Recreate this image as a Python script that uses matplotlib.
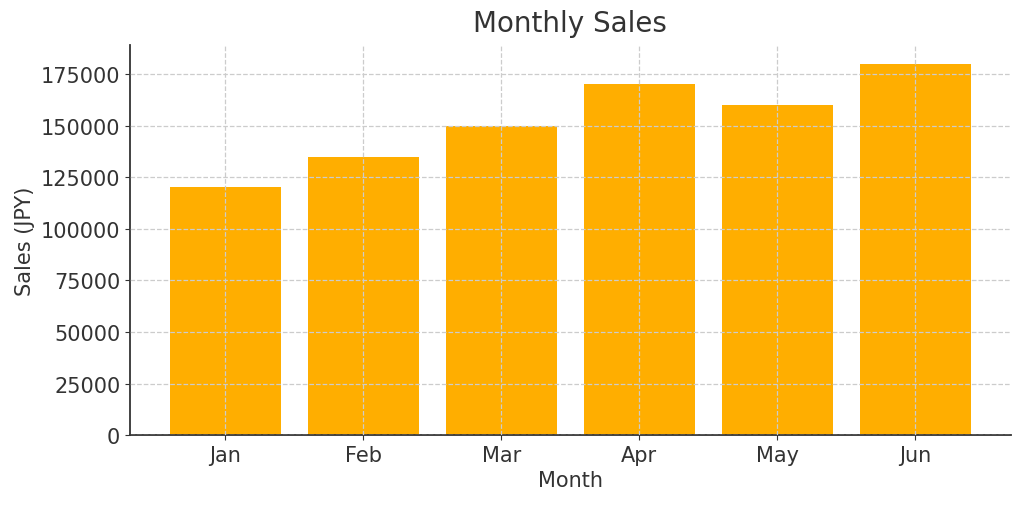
import matplotlib
matplotlib.use('Agg')
import matplotlib.pyplot as plt

months = ['Jan', 'Feb', 'Mar', 'Apr', 'May', 'Jun']
sales = [120000, 135000, 150000, 170000, 160000, 180000]

text_color = '#333333'
plt.rcParams['text.color'] = text_color
plt.rcParams['axes.labelcolor'] = text_color
plt.rcParams['xtick.color'] = text_color
plt.rcParams['ytick.color'] = text_color

fig = plt.figure(figsize=(10.24, 5.06), dpi=100)
ax = fig.add_axes([0.127, 0.138, 0.86, 0.771])

ax.bar(months, sales, color='#FFAE00', width=0.8)
ax.grid(True, linestyle='--', color='#cccccc', linewidth=0.9)
ax.set_axisbelow(False)

ax.set_title('Monthly Sales', fontsize=20, color=text_color, pad=10)
ax.set_xlabel('Month', fontsize=15)
ax.set_ylabel('Sales (JPY)', fontsize=15)
ax.tick_params(labelsize=15)

ax.spines['top'].set_visible(False)
ax.spines['right'].set_visible(False)
ax.spines['left'].set_color(text_color)
ax.spines['bottom'].set_color(text_color)
ax.spines['left'].set_linewidth(1.3)
ax.spines['bottom'].set_linewidth(1.3)

fig.savefig('out.png', dpi=100)
